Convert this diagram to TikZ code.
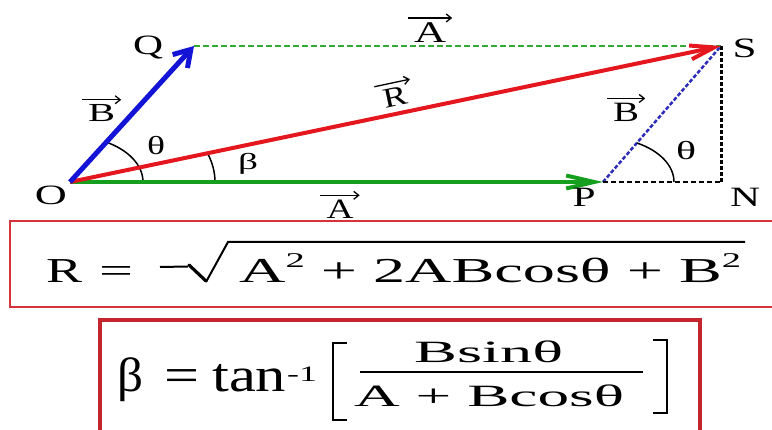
\documentclass[tikz,border=0pt]{standalone}
\usepackage{fontspec}
\setmainfont{Liberation Serif}
\usepackage{graphicx}
\usetikzlibrary{arrows.meta}
\definecolor{vblue}{RGB}{20,20,215}
\definecolor{vred}{RGB}{228,22,30}
\definecolor{vgreen}{RGB}{22,158,30}
\definecolor{dgreen}{RGB}{50,170,50}
\definecolor{dblue}{RGB}{45,45,185}
\definecolor{boxred}{RGB}{214,52,60}
\definecolor{boxdred}{RGB}{196,36,44}
\newcommand\sx[2]{\resizebox{#1pt}{\height}{#2}}
\newcommand\supii{\raisebox{15pt}{\fontsize{21}{23}\selectfont 2}}
\tikzset{
  lbl/.style={inner sep=0pt, anchor=base, font=\fontsize{28}{30}\selectfont},
  vlbl/.style={inner xsep=6pt, inner ysep=5pt, anchor=base, font=\fontsize{28}{30}\selectfont},
  vecarrow/.style={line width=1.3pt, -{Straight Barb[length=5pt,width=8pt]}},
  bvec/.style={vblue, line width=5pt, -{Straight Barb[length=16pt,width=20pt]}},
  rvec/.style={vred, line width=4pt, -{Straight Barb[length=24pt,width=14pt]}},
  gvec/.style={vgreen, line width=4pt, -{Straight Barb[length=28pt,width=13pt]}},
  gdash/.style={dgreen, line width=1.5pt, dash pattern=on 6pt off 3pt},
  bdash/.style={dblue, line width=2.5pt, dash pattern=on 4pt off 2pt},
  kdash/.style={black, line width=2pt, dash pattern=on 5pt off 3pt},
  kvdash/.style={black, line width=3pt, dash pattern=on 4pt off 2pt},
  anglearc/.style={black, line width=1.5pt},
  f1/.style={inner sep=0pt, anchor=base west, font=\fontsize{35}{38}\selectfont},
  f2/.style={inner sep=0pt, anchor=base west, font=\fontsize{48}{52}\selectfont},
  f3/.style={inner sep=0pt, anchor=base west, font=\fontsize{31}{34}\selectfont},
}
\begin{document}
\begin{tikzpicture}[x=1pt,y=1pt]
\fill[white] (0,0) rectangle (772,430);
\useasboundingbox (0,0) rectangle (772,430);

% points
\coordinate (O) at (70,248);
\coordinate (Q) at (194,384);
\coordinate (S) at (721,384);
\coordinate (P) at (603,248);
\coordinate (N) at (721,248);

% dashed construction lines
\draw[gdash] (Q) -- (S);
\draw[bdash] (P) -- (S);
\draw[kdash] (P) -- (N);
\draw[kvdash] (N) -- (S);

% angle arcs
\draw[anglearc] (O) ++(73,0) arc[start angle=0, end angle=61, x radius=73, y radius=46];
\draw[anglearc] (O) ++(145,0) arc[start angle=0, end angle=18.4, x radius=145, y radius=90.6];
\draw[anglearc] (P) ++(71,0) arc[start angle=0, end angle=61.4, x radius=71, y radius=44.4];

% vectors
\draw[gvec] (O) -- (P);
\draw[rvec] (O) -- (S);
\draw[bvec] (O) -- (Q);

% point labels
\node[lbl] (lQ) at (148,375) {\sx{30}{Q}};
\node[lbl] (lO) at (51,225) {\sx{32}{O}};
\node[lbl] (lS) at (744.5,372) {\sx{24}{S}};
\node[lbl] (lP) at (584,223) {\sx{23}{P}};
\node[lbl] (lN) at (745,223) {\sx{30}{N}};

% vector labels
\node[vlbl, font=\fontsize{30}{32}\selectfont] (vA1) at (430,387) {\sx{32}{A}};
\draw[vecarrow] (vA1.north west) -- (vA1.north east);
\node[vlbl, font=\fontsize{26}{28}\selectfont] (vB1) at (101.5,308) {\sx{27}{B}};
\draw[vecarrow] (vB1.north west) -- (vB1.north east);
\node[vlbl] (vB2) at (626,308) {\sx{26}{B}};
\draw[vecarrow] (vB2.north west) -- (vB2.north east);
\node[vlbl, rotate=12] (vR) at (397,324) {\sx{24}{R}};
\draw[vecarrow] (vR.north west) -- (vR.north east);
\node[vlbl] (vA2) at (340,211) {\sx{27}{A}};
\draw[vecarrow] (vA2.north west) -- (vA2.north east);

% angle labels
\node[lbl, font=\fontsize{26}{28}\selectfont] (th1) at (156,275) {\sx{18}{θ}};
\node[lbl, font=\fontsize{26}{28}\selectfont] (th2) at (686,270) {\sx{20}{θ}};
\node[lbl, font=\fontsize{23}{25}\selectfont] (be1) at (248,260) {\sx{20}{β}};

% formula boxes
\draw[boxred, line width=2.5pt] (10,123) rectangle (790,209);
\draw[boxdred, line width=4pt] (100,-10) rectangle (700,110);

% formula 1
\node[f1] (fR) at (46,147) {\sx{36}{R}};
\node[f1] (fEq) at (99,147) {\sx{34}{=}};
\draw[line width=2pt] (160,163) -- (188,163.5);
\draw[line width=3.2pt, line cap=round] (189,165) -- (206,149);
\draw[line width=2pt, line join=miter] (206,148) -- (228,188) -- (745,188);
\node[f1] (fRad) at (239,147) {\sx{502}{A\supii{} + 2ABcosθ + B\supii}};

% formula 2
\node[f2] (gB) at (117,38) {\sx{26}{β}};
\node[f2] (gEq) at (164,38) {\sx{35}{=}};
\node[f2] (gTan) at (212,38) {\sx{74}{tan}};
\node[inner sep=0pt, anchor=base west, font=\fontsize{22}{24}\selectfont] (gExp) at (287,48) {\sx{30}{-1}};
\draw[line width=2.5pt] (347,87) -- (333,87) -- (333,10) -- (347,10);
\node[f3] (gNum) at (414,67) {\sx{149}{Bsinθ}};
\draw[line width=2pt] (360,58) -- (643,58);
\node[f3] (gDen) at (354,23) {\sx{270}{A + Bcosθ}};
\draw[line width=2.5pt] (653,90) -- (667,90) -- (667,17) -- (653,17);
\end{tikzpicture}
\end{document}
